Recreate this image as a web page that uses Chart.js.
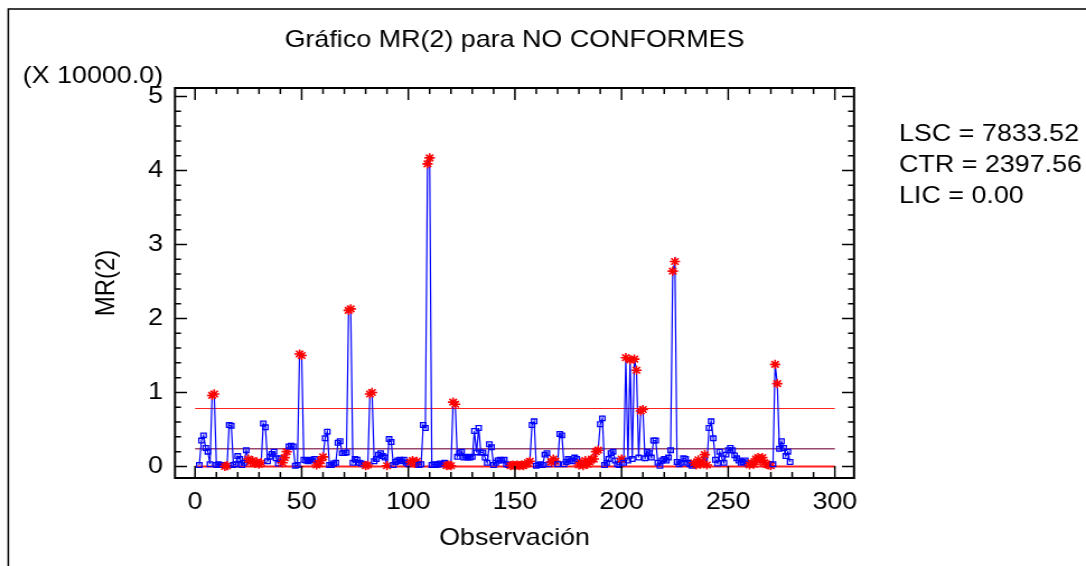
<!DOCTYPE html>
<html>
<head>
<meta charset="utf-8">
<script src="https://cdn.jsdelivr.net/npm/chart.js@4.4.0/dist/chart.umd.min.js"></script>
<style>
html, body { margin: 0; padding: 0; background: #fff; overflow: hidden; }
/* the reference is stretched sideways, so the chart is drawn narrower and scaled */
#wrap { position: absolute; left: 0; top: 0; width: 970px; height: 566px;
        transform: scaleX(1.119588); transform-origin: 0 0; }
</style>
</head>
<body>
<div id="wrap"><canvas id="mr-chart"></canvas></div>
<script>
// Chart data
const chartTitle = 'Gráfico MR(2) para NO CONFORMES';
const xTitle = 'Observación';
const yTitle = 'MR(2)';
const axisMultiplier = '(X 10000.0)';
const scaleFactor = 10000;

const xTicks = [0, 50, 100, 150, 200, 250, 300];
const yTicks = [0, 1, 2, 3, 4, 5];

const limitNames = ['LSC', 'CTR', 'LIC'];
const limitValues = [7833.52, 2397.56, 0.00];

// moving ranges in units of 10000, starting at observation 2
const firstObs = 2;
const mrValues = [
    0.02, 0.35, 0.42, 0.25, 0.20, 0.03, 0.96, 0.98, 0.02, 0.03,
    0.02, 0.02, 0.00, 0.01, 0.56, 0.55, 0.02, 0.03, 0.14, 0.10,
    0.02, 0.05, 0.22, 0.10, 0.06, 0.08, 0.04, 0.06, 0.03, 0.05,
    0.58, 0.53, 0.07, 0.13, 0.17, 0.20, 0.11, 0.04, 0.11, 0.05,
    0.12, 0.20, 0.27, 0.28, 0.27, 0.01, 0.02, 1.52, 1.50, 0.09,
    0.08, 0.07, 0.09, 0.08, 0.10, 0.02, 0.04, 0.08, 0.13, 0.38,
    0.47, 0.02, 0.02, 0.04, 0.05, 0.32, 0.34, 0.18, 0.18, 0.19,
    2.11, 2.13, 0.05, 0.10, 0.09, 0.05, 0.04, 0.03, 0.01, 0.02,
    0.98, 1.00, 0.07, 0.10, 0.16, 0.18, 0.14, 0.12, 0.01, 0.37,
    0.33, 0.02, 0.06, 0.08, 0.09, 0.07, 0.09, 0.05, 0.03, 0.06,
    0.08, 0.04, 0.07, 0.02, 0.03, 0.56, 0.52, 4.09, 4.17, 0.02,
    0.03, 0.02, 0.03, 0.04, 0.03, 0.05, 0.01, 0.02, 0.01, 0.87,
    0.84, 0.13, 0.18, 0.20, 0.12, 0.13, 0.12, 0.12, 0.13, 0.48,
    0.19, 0.52, 0.19, 0.19, 0.12, 0.05, 0.30, 0.26, 0.02, 0.05,
    0.08, 0.09, 0.08, 0.09, 0.03, 0.02, 0.01, 0.02, 0.01, 0.02,
    0.01, 0.02, 0.01, 0.03, 0.05, 0.07, 0.56, 0.61, 0.01, 0.02,
    0.03, 0.02, 0.16, 0.18, 0.03, 0.06, 0.10, 0.07, 0.03, 0.44,
    0.42, 0.03, 0.06, 0.10, 0.08, 0.07, 0.12, 0.10, 0.02, 0.05,
    0.01, 0.08, 0.03, 0.06, 0.10, 0.10, 0.20, 0.22, 0.57, 0.65,
    0.02, 0.05, 0.10, 0.18, 0.20, 0.08, 0.03, 0.02, 0.10, 0.05,
    1.47, 0.08, 1.44, 0.10, 1.45, 1.30, 0.12, 0.75, 0.77, 0.11,
    0.20, 0.18, 0.12, 0.35, 0.35, 0.05, 0.01, 0.08, 0.10, 0.08,
    0.12, 0.22, 2.64, 2.77, 0.06, 0.03, 0.05, 0.11, 0.10, 0.05,
    0.03, 0.01, 0.05, 0.02, 0.09, 0.03, 0.06, 0.16, 0.02, 0.52,
    0.61, 0.38, 0.09, 0.04, 0.20, 0.11, 0.05, 0.16, 0.22, 0.25,
    0.22, 0.15, 0.11, 0.08, 0.05, 0.06, 0.08, 0.04, 0.02, 0.05,
    0.03, 0.10, 0.12, 0.08, 0.12, 0.05, 0.03, 0.02, 0.01, 0.03,
    1.38, 1.12, 0.24, 0.34, 0.25, 0.14, 0.20, 0.06
];

// observations flagged by the limit and run rules (red asterisks)
const flaggedObs = [
    8, 9, 14, 15, 25, 26, 27, 28, 29, 30, 31, 41, 42, 43, 49, 50,
    57, 58, 59, 60, 72, 73, 80, 81, 82, 83, 90, 101, 102, 103, 104,
    109, 110, 118, 119, 120, 121, 122,
    148, 149, 150, 151, 152, 153, 154, 155, 156, 157, 167, 168, 169,
    180, 181, 182, 183, 184, 185, 186, 187, 188, 189,
    200, 202, 204, 206, 207, 209, 210, 224, 225,
    234, 235, 236, 237, 238, 239, 240,
    260, 261, 262, 263, 264, 265, 266, 267, 268, 269, 270, 272, 273
];

const stretch = 1.119588;
const font = '"Liberation Sans", Arial, sans-serif';
Chart.defaults.font.family = font;
Chart.defaults.font.size = 24;
Chart.defaults.color = '#000';

const flagged = new Set(flaggedObs);
const points = mrValues.map((v, i) => ({ x: firstObs + i, y: v }));
const limitLine = (value) => [
    { x: xTicks[0], y: value / scaleFactor },
    { x: xTicks[xTicks.length - 1], y: value / scaleFactor }
];

// Box, inner tick marks and side texts
const framePlugin = {
    id: 'frame',
    afterDraw(chart) {
        const { ctx, chartArea: a, scales: { x, y } } = chart;
        ctx.save();
        ctx.strokeStyle = '#000';

        // outer frame, only left and top edges fall inside the picture
        ctx.lineWidth = 1.5;
        ctx.strokeRect(7.4, 9, 1000, 600);

        ctx.lineWidth = 2;
        ctx.strokeRect(a.left, a.top, a.right - a.left, a.bottom - a.top);

        ctx.beginPath();
        for (let v = xTicks[0]; v <= xTicks[xTicks.length - 1]; v += 10) {
            const px = x.getPixelForValue(v);
            const len = v % 50 === 0 ? 12 : 6;
            ctx.moveTo(px, a.bottom);
            ctx.lineTo(px, a.bottom - len);
            ctx.moveTo(px, a.top);
            ctx.lineTo(px, a.top + len);
        }
        for (let k = 0; k <= 25; k++) {
            const py = y.getPixelForValue(k / 5);
            const len = (k % 5 === 0 ? 12 : 6) / stretch;
            ctx.moveTo(a.left, py);
            ctx.lineTo(a.left + len, py);
            ctx.moveTo(a.right, py);
            ctx.lineTo(a.right - len, py);
        }
        ctx.lineWidth = 1.5;
        ctx.stroke();

        ctx.fillStyle = '#000';
        ctx.font = '24px ' + font;
        ctx.textAlign = 'left';
        ctx.textBaseline = 'alphabetic';
        ctx.fillText(axisMultiplier, 20.3, 82.5);
        limitNames.forEach((name, i) => {
            ctx.fillText(name + ' = ' + limitValues[i].toFixed(2), 803, 140.7 + i * 31.3);
        });
        ctx.restore();
    }
};

const ctx = document.getElementById('mr-chart').getContext('2d');
const mrChart = new Chart(ctx, {
    type: 'line',
    data: {
        datasets: [
            {
                label: 'MR(2)',
                data: points,
                borderColor: '#0000ff',
                borderWidth: 1.2,
                tension: 0,
                pointStyle: c => flagged.has(c.raw.x) ? 'star' : 'rect',
                pointRadius: c => flagged.has(c.raw.x) ? 4.6 : 3.3,
                pointBorderColor: c => flagged.has(c.raw.x) ? '#ff0000' : '#0000ff',
                pointBackgroundColor: 'rgba(255,255,255,0)',
                pointBorderWidth: c => flagged.has(c.raw.x) ? 1.6 : 1.3,
                order: 0
            },
            {
                label: 'LSC',
                data: limitLine(limitValues[0]),
                borderColor: '#ff2020',
                borderWidth: 1.2,
                pointRadius: 0,
                order: 1
            },
            {
                label: 'CTR',
                data: limitLine(limitValues[1]),
                borderColor: '#99466e',
                borderWidth: 1.6,
                pointRadius: 0,
                order: 1
            },
            {
                label: 'LIC',
                data: limitLine(limitValues[2]),
                borderColor: '#ff2020',
                borderWidth: 2,
                pointRadius: 0,
                order: 1
            }
        ]
    },
    options: {
        responsive: true,
        maintainAspectRatio: false,
        animation: false,
        layout: {
            padding: { left: 0, top: 0, right: 207.2, bottom: 0 }
        },
        plugins: {
            legend: { display: false },
            tooltip: { enabled: false },
            title: {
                display: true,
                text: chartTitle,
                fullSize: false,
                color: '#000',
                font: { size: 24, weight: 'normal' },
                padding: { top: 25.6, bottom: 33.6 }
            }
        },
        scales: {
            x: {
                type: 'linear',
                min: -9.4,
                max: 309,
                afterFit: s => { s.height = 88; },
                afterBuildTicks: s => { s.ticks = xTicks.map(v => ({ value: v })); },
                grid: { display: false, drawTicks: false },
                border: { display: false },
                ticks: { padding: 9.6, autoSkip: false, maxRotation: 0 },
                title: {
                    display: true,
                    text: xTitle,
                    padding: { top: 0, bottom: 13.6 }
                }
            },
            y: {
                type: 'linear',
                min: -0.156,
                max: 5.115,
                afterFit: s => { s.width = 156.3; },
                afterBuildTicks: s => { s.ticks = yTicks.map(v => ({ value: v })); },
                grid: { display: false, drawTicks: false },
                border: { display: false },
                ticks: { padding: 10.7 },
                title: {
                    display: true,
                    text: yTitle,
                    padding: { top: 81.2, bottom: 0 }
                }
            }
        }
    },
    plugins: [framePlugin]
});
</script>
</body>
</html>
